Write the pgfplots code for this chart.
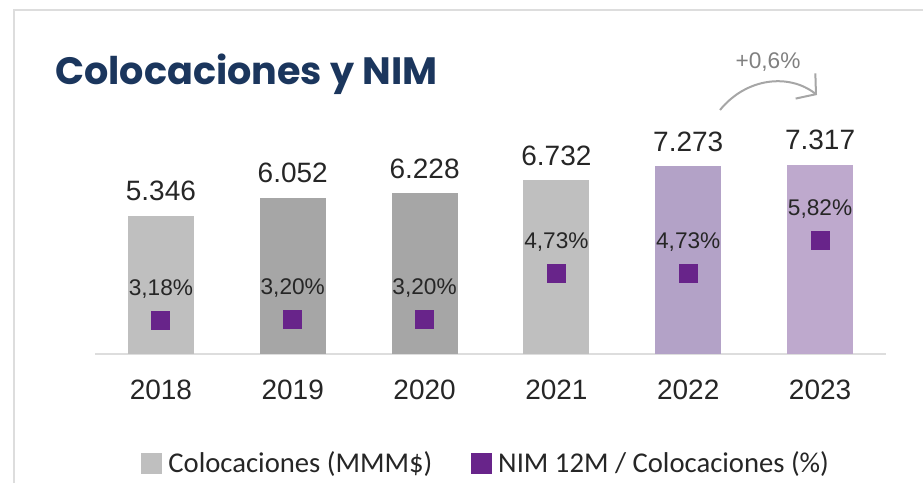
\documentclass[border=0pt]{standalone}
\usepackage{pgfplots}
\pgfplotsset{compat=1.18}
\usetikzlibrary{arrows.meta}
\usepackage{fontspec}
\setmainfont{Liberation Sans}
\newfontfamily\legfont{Carlito}
\newfontfamily\titlefont{Poppins}
\definecolor{c18}{HTML}{BFBFBF}
\definecolor{c19}{HTML}{A6A6A6}
\definecolor{c20}{HTML}{A6A6A6}
\definecolor{c21}{HTML}{BFBFBF}
\definecolor{c22}{HTML}{B3A2C7}
\definecolor{c23}{HTML}{BEA9CD}
\definecolor{nim}{HTML}{68248A}
\definecolor{txt}{HTML}{262626}
\definecolor{ttl}{HTML}{1B365D}
\definecolor{frame}{HTML}{DDDDDD}
\pgfplotsset{/pgf/number format/assume math mode=true}
\begin{document}
\begin{tikzpicture}
\path[use as bounding box] (0,0) rectangle (692.25pt,-362.25pt);
\draw[frame, line width=1.5pt] (10.5pt,-362.25pt) -- (10.5pt,-7.5pt) -- (692.25pt,-7.5pt);
\node[anchor=base west, inner sep=0, text=ttl, font=\titlefont\bfseries\fontsize{28.6}{32}\selectfont] at (41.25pt,-63.5pt) {Colocaciones y NIM};
\begin{axis}[
  at={(71.25pt,-265.5pt)}, anchor=south west,
  scale only axis, width=593.25pt, height=168pt,
  xmin=-0.5, xmax=5.5, ymin=0, ymax=8.68,
  axis y line=none, axis x line*=bottom,
  x axis line style={frame, line width=1.5pt, -},
  xtick={0,1,2,3,4,5}, xticklabels={2018,2019,2020,2021,2022,2023},
  major tick length=0pt,
  xticklabel style={inner sep=0pt, yshift=-19.5pt, text=txt, font=\fontsize{21}{24}\selectfont},
  nodes near coords={\pgfmathprintnumber[fixed, fixed zerofill, precision=3]{\pgfplotspointmeta}},
  nodes near coords style={anchor=south, inner sep=0pt, yshift=11pt, text=txt, font=\fontsize{21}{24}\selectfont},
  legend style={at={(0.494,-0.487)}, anchor=center, draw=none, fill=none, legend columns=2,
    font=\legfont\fontsize{21.5}{23}\selectfont, text=txt,
    /tikz/every odd column/.append style={column sep=4pt},
    /tikz/every even column/.append style={column sep=28pt},
    nodes={inner sep=1pt}},
]
\addplot[ybar, bar width=0.5, bar shift=0pt, fill=c18, draw=none, forget plot] coordinates {(0,5.346)};
\addplot[ybar, bar width=0.5, bar shift=0pt, fill=c19, draw=none, forget plot] coordinates {(1,6.052)};
\addplot[ybar, bar width=0.5, bar shift=0pt, fill=c20, draw=none, forget plot] coordinates {(2,6.228)};
\addplot[ybar, bar width=0.5, bar shift=0pt, fill=c21, draw=none, forget plot] coordinates {(3,6.732)};
\addplot[ybar, bar width=0.5, bar shift=0pt, fill=c22, draw=none, forget plot] coordinates {(4,7.273)};
\addplot[ybar, bar width=0.5, bar shift=0pt, fill=c23, draw=none, forget plot] coordinates {(5,7.317)};
\addlegendimage{legend image code/.code={\fill[c18] (0pt,-7.5pt) rectangle (15pt,7.5pt);}}
\addlegendentry{Colocaciones (MMM\$)}
\addlegendimage{legend image code/.code={\fill[nim] (0pt,-7.5pt) rectangle (15pt,7.5pt);}}
\addlegendentry{NIM 12M / Colocaciones (\%)}
\end{axis}
\begin{axis}[
  at={(71.25pt,-265.5pt)}, anchor=south west,
  scale only axis, width=593.25pt, height=168pt,
  xmin=-0.5, xmax=5.5, ymin=2.05, ymax=9.5,
  hide axis,
  nodes near coords={\pgfmathprintnumber[fixed, fixed zerofill, precision=2, use comma]{\pgfplotspointmeta}\%},
  nodes near coords style={anchor=south, inner sep=0pt, yshift=16.5pt, text=txt, font=\fontsize{17}{20}\selectfont},
]
\addplot[only marks, color=nim, mark=square*, mark size=6.75pt, mark options={fill=nim, draw=nim, line width=0pt}] coordinates {
(0,3.18) (1,3.20) (2,3.20) (3,4.73) (4,4.73) (5,5.82)};
\end{axis}
\draw[c19, line width=1.5pt, -{Straight Barb[length=10pt, width=24pt]}] (540pt,-82.5pt) .. controls (560pt,-58pt) and (592pt,-55pt) .. (612.75pt,-71.25pt);
\node[text=gray, font=\fontsize{17}{20}\selectfont] at (576pt,-46.5pt) {+0,6\%};
\end{tikzpicture}
\end{document}
